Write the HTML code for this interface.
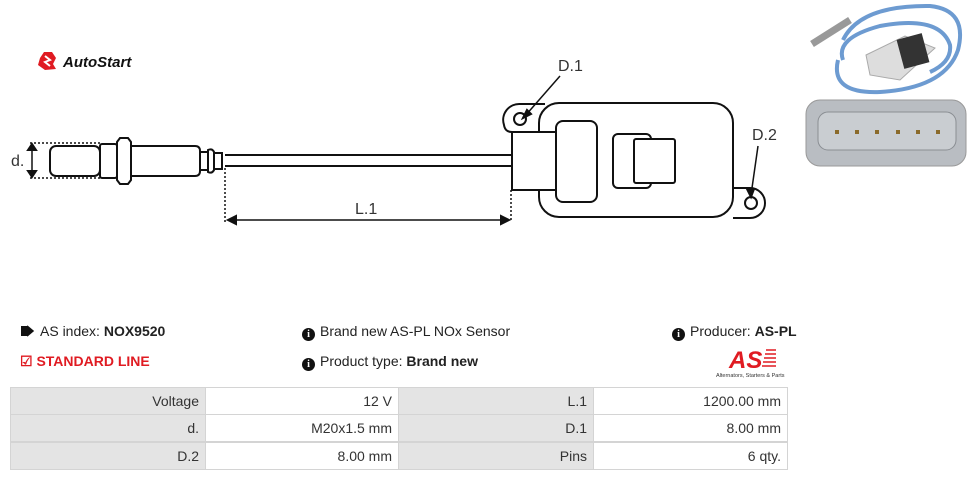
<!DOCTYPE html>
<html><head><meta charset="utf-8"><style>
body{margin:0;width:976px;height:482px;background:#fff;position:relative;overflow:hidden;font-family:"Liberation Sans",sans-serif;color:#222}
.t{position:absolute;font-size:14px;white-space:nowrap}
.c{position:absolute;box-sizing:border-box;height:28px;line-height:27px;font-size:14px;text-align:right;padding-right:6px;color:#333;border:1px solid #d4d4d4}
.g{background:#e4e4e4}
.ic{display:inline-block;width:13px;height:13px;border-radius:50%;background:#111;color:#fff;font-size:10px;font-weight:bold;text-align:center;line-height:13px;vertical-align:-1px;margin-right:5px;font-family:"Liberation Serif",serif}
</style></head><body>
<svg width="976" height="482" style="position:absolute;left:0;top:0" fill="none" stroke="#111" stroke-width="2">
<g transform="translate(47,61)"><path d="M-3,-9 L5,-9 L9,-3 L6,3 L9,8 L-2,9 L-9,4 L-7,-3 Z" fill="#e01b22" stroke="none"/><path d="M-2,-5 L3,-1 L-2,1 L3,5" stroke="#fff" stroke-width="2"/></g>
<text x="63" y="67" font-family="Liberation Sans" font-style="italic" font-weight="bold" font-size="15" fill="#111" stroke="none">AutoStart</text>
<path d="M30,143 H100 M30,178 H100" stroke-dasharray="2,2" stroke-width="1.5"/>
<path d="M32,147 V174" stroke-width="1.5"/>
<path d="M28,150 L32,144 L36,150 Z M28,171 L32,177 L36,171 Z" fill="#111"/>
<text x="11" y="166" font-family="Liberation Sans" font-size="16" fill="#333" stroke="none">d.</text>
<rect x="50" y="146" width="50" height="30" rx="6"/>
<rect x="100" y="144" width="17" height="34" rx="2"/>
<path d="M117,142 L120,138 H128 L131,142 V180 L128,184 H120 L117,180 Z"/>
<path d="M131,146 H195 Q200,146 200,151 V171 Q200,176 195,176 H131"/>
<path d="M200,152 H208 M200,170 H208 M208,150 Q212,148 214,152 V170 Q212,174 208,172 Z M214,153 H222 V169 H214"/>
<path d="M225,155 H512 M225,166 H512"/>
<path d="M225,168 V222 M511,190 V222" stroke-dasharray="2,2" stroke-width="1.5"/>
<path d="M230,220 H507" stroke-width="1.5"/>
<path d="M236,216 L228,220 L236,224 Z M501,216 L509,220 L501,224 Z" fill="#111"/>
<text x="355" y="214" font-family="Liberation Sans" font-size="16" fill="#333" stroke="none">L.1</text>
<path d="M512,132 Q505,132 504,125 A16,16 0 0 1 520,104 H545"/>
<circle cx="520" cy="119" r="6"/>
<path d="M733,188 H750 A15,15 0 0 1 750,218 H733"/>
<circle cx="751" cy="203" r="6"/>
<rect x="539" y="103" width="194" height="114" rx="20" fill="#fff"/>
<rect x="512" y="132" width="44" height="58" fill="#fff"/>
<rect x="556" y="121" width="41" height="81" rx="7" fill="#fff"/>
<rect x="613" y="134" width="38" height="54" rx="5"/>
<rect x="634" y="139" width="41" height="44" rx="2" fill="#fff"/>
<path d="M560,76 L525,116" stroke-width="1.5"/>
<path d="M523,118 L527,110 L531,114 Z" fill="#111"/>
<path d="M758,146 L751,195" stroke-width="1.5"/>
<path d="M751,197 L747,189 L754,189 Z" fill="#111"/>
<text x="558" y="71" font-family="Liberation Sans" font-size="16" fill="#333" stroke="none">D.1</text>
<text x="752" y="140" font-family="Liberation Sans" font-size="16" fill="#333" stroke="none">D.2</text>
<path d="M843,40 Q860,5 930,6 Q968,10 958,50 Q945,88 880,92 Q830,94 838,60" stroke="#6d9bd1" stroke-width="4"/>
<path d="M843,60 Q835,38 880,26 Q940,15 950,45 Q952,62 930,72" stroke="#6d9bd1" stroke-width="4"/>
<path d="M812,44 L850,20" stroke="#999" stroke-width="7"/>
<path d="M866,55 L905,36 L935,48 L900,80 L870,75 Z" fill="#ddd" stroke="#aaa" stroke-width="1"/>
<rect x="900" y="36" width="26" height="30" fill="#333" stroke="none" transform="rotate(-15 913 51)"/>
<rect x="806" y="100" width="160" height="66" rx="14" fill="#b9bdc2" stroke="#999" stroke-width="1"/>
<rect x="818" y="112" width="138" height="38" rx="10" fill="#c9cdd1" stroke="#8a8e93" stroke-width="1"/>
<g fill="#8a6a2a" stroke="none"><rect x="835" y="130" width="4" height="4"/><rect x="855" y="130" width="4" height="4"/><rect x="875" y="130" width="4" height="4"/><rect x="896" y="130" width="4" height="4"/><rect x="916" y="130" width="4" height="4"/><rect x="936" y="130" width="4" height="4"/></g>
<text x="729" y="368" font-family="Liberation Sans" font-style="italic" font-weight="bold" font-size="24" fill="#e01b22" stroke="none">AS</text>
<g stroke="#e01b22" stroke-width="1.5"><path d="M766,350 H776 M765,354 H776 M764,358 H776 M763,362 H776 M762,366 H776"/></g>
<text x="716" y="377" font-family="Liberation Sans" font-size="5.5" fill="#333" stroke="none">Alternators, Starters &amp; Parts</text>
<path d="M21,326 h6 l6,5 l-6,5 h-6 Z" fill="#111" stroke="none"/>
<path d="M27,326 l6,5 l-6,5" stroke-width="1.5"/>
</svg>
<div class="t" style="left:40px;top:323px">AS index: <b>NOX9520</b></div>
<div class="t" style="left:20px;top:353px;color:#e01b22;font-weight:bold">&#9745; STANDARD LINE</div>
<div class="t" style="left:302px;top:323px"><span class="ic">i</span>Brand new AS-PL NOx Sensor</div>
<div class="t" style="left:302px;top:353px"><span class="ic">i</span>Product type: <b>Brand new</b></div>
<div class="t" style="left:672px;top:323px"><span class="ic">i</span>Producer: <b>AS-PL</b></div>
<div class="c g" style="left:10px;top:387px;width:196px">Voltage</div>
<div class="c" style="left:205px;top:387px;width:194px">12 V</div>
<div class="c g" style="left:398px;top:387px;width:196px">L.1</div>
<div class="c" style="left:593px;top:387px;width:195px">1200.00 mm</div>
<div class="c g" style="left:10px;top:414px;width:196px">d.</div>
<div class="c" style="left:205px;top:414px;width:194px">M20x1.5 mm</div>
<div class="c g" style="left:398px;top:414px;width:196px">D.1</div>
<div class="c" style="left:593px;top:414px;width:195px">8.00 mm</div>
<div class="c g" style="left:10px;top:442px;width:196px">D.2</div>
<div class="c" style="left:205px;top:442px;width:194px">8.00 mm</div>
<div class="c g" style="left:398px;top:442px;width:196px">Pins</div>
<div class="c" style="left:593px;top:442px;width:195px">6 qty.</div>
</body></html>
